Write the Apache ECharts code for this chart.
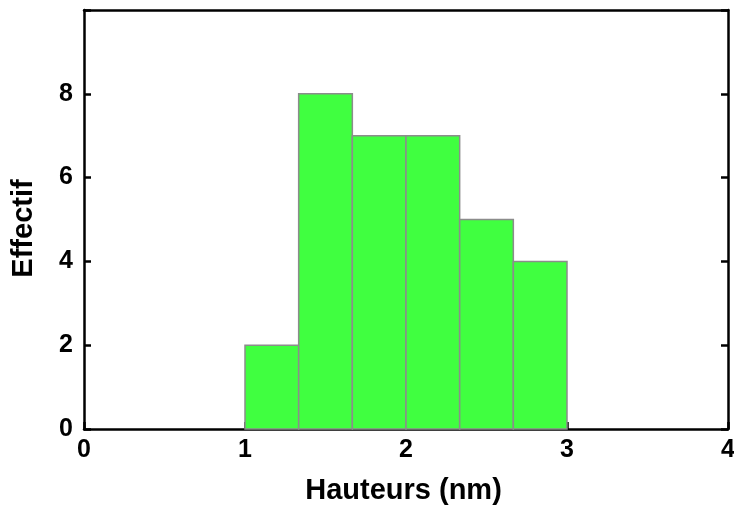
<!DOCTYPE html>
<html><head><meta charset="utf-8">
<script src="https://cdn.jsdelivr.net/npm/echarts@6/dist/echarts.min.js"></script>
<style>html,body{margin:0;padding:0;background:#fff}#c{width:734px;height:510px}</style>
</head><body><div id="c"></div>
<script>
const binStarts = [1, 1.3333, 1.6667, 2, 2.3333, 2.6667];
const binEnds = [1.3333, 1.6667, 2, 2.3333, 2.6667, 3];
const counts = [2, 8, 7, 7, 5, 4];
const xTicks = [0, 1, 2, 3, 4];
const yTicks = [0, 2, 4, 6, 8];

const data = binStarts.map((s, i) => [s, binEnds[i], counts[i]]);
const font = 'Liberation Sans, Arial, sans-serif';
const chart = echarts.init(document.getElementById('c'));
const axisCommon = {
  axisLine: {show: true, onZero: false, lineStyle: {color: '#000', width: 2.5}},
  axisTick: {show: true, inside: true, length: 7, lineStyle: {color: '#000', width: 2.5}},
  splitLine: {show: false}
};
chart.setOption({
  animation: false,
  grid: {left: 84, right: 6, top: 10, bottom: 81, containLabel: false, outerBoundsMode: 'none'},
  xAxis: [
    Object.assign({type: 'value', min: 0, max: 4, interval: 1, position: 'bottom',
      name: 'Hauteurs (nm)', nameLocation: 'middle', nameGap: 47,
      nameTextStyle: {fontFamily: font, fontWeight: 'bold', fontSize: 29, color: '#000', padding: [0, 5, 0, 0]},
      axisLabel: {fontFamily: font, fontWeight: 'bold', fontSize: 25, color: '#000', margin: 9,
        formatter: v => xTicks.includes(v) ? String(v) : ''}}, axisCommon),
    Object.assign({type: 'value', min: 0, max: 4, interval: 1, position: 'top', axisLabel: {show: false}}, axisCommon, {axisTick: {show: false}})
  ],
  yAxis: [
    Object.assign({type: 'value', min: 0, max: 10, interval: 2, position: 'left',
      name: 'Effectif', nameLocation: 'middle', nameGap: 46,
      nameTextStyle: {fontFamily: font, fontWeight: 'bold', fontSize: 29, color: '#000', padding: [0, 18, 0, 0]},
      axisLabel: {fontFamily: font, fontWeight: 'bold', fontSize: 25, color: '#000', margin: 11,
        formatter: v => yTicks.includes(v) ? String(v) : ''}}, axisCommon),
    Object.assign({type: 'value', min: 0, max: 10, interval: 2, position: 'right', axisLabel: {show: false}}, axisCommon)
  ],
  series: [{
    type: 'custom',
    xAxisIndex: 0, yAxisIndex: 0,
    data: data,
    renderItem: function (params, api) {
      const p0 = api.coord([api.value(0), api.value(2)]);
      const p1 = api.coord([api.value(1), 0]);
      return {type: 'rect', shape: {x: p0[0], y: p0[1], width: p1[0] - p0[0], height: p1[1] - p0[1]},
        style: {fill: '#40FF40', stroke: '#8c8c8c', lineWidth: 1.5}};
    },
    z: 1
  }]
});
</script></body></html>
